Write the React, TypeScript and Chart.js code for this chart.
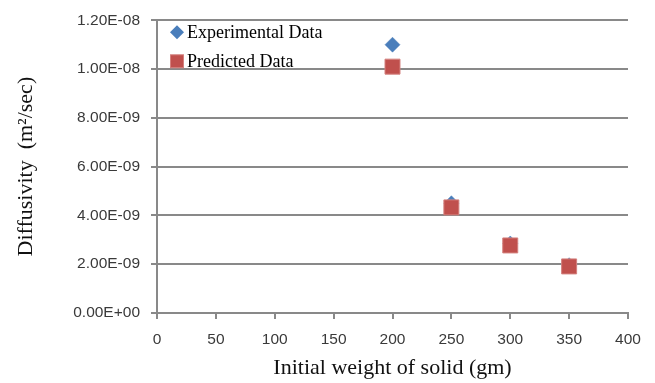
import React, { useEffect, useRef } from 'react';
import { Chart, registerables } from 'chart.js';

Chart.register(...registerables);

const weights = [200, 250, 300, 350];
const experimental = [1.10e-8, 4.5e-9, 2.85e-9, 1.96e-9];
const predicted = [1.01e-8, 4.33e-9, 2.77e-9, 1.91e-9];
const seriesNames = ['Experimental Data', 'Predicted Data'];
const xTitle = 'Initial weight of solid (gm)';
const yTitle = 'Diffusivity  (m\u00B2/sec)';

const BLUE = '#4A7EBB';
const RED = '#C0504D';

function fmtExp(v: number): string {
  const [m, e] = v.toExponential(2).split('e');
  const n = parseInt(e, 10);
  const sign = n < 0 ? '-' : '+';
  return m + 'E' + sign + String(Math.abs(n)).padStart(2, '0');
}

const legendPlugin = {
  id: 'insideLegend',
  afterDraw(chart: any) {
    const ctx = chart.ctx;
    const { left, top } = chart.chartArea;
    ctx.save();
    const dx = left + 20;
    const dy = top + 12;
    ctx.fillStyle = BLUE;
    ctx.beginPath();
    ctx.moveTo(dx, dy - 7);
    ctx.lineTo(dx + 7, dy);
    ctx.lineTo(dx, dy + 7);
    ctx.lineTo(dx - 7, dy);
    ctx.closePath();
    ctx.fill();
    const sy = top + 41;
    ctx.fillStyle = RED;
    ctx.fillRect(dx - 6.5, sy - 6.5, 13, 13);
    ctx.strokeStyle = '#D4817E';
    ctx.lineWidth = 1;
    ctx.strokeRect(dx - 6.5, sy - 6.5, 13, 13);
    ctx.fillStyle = '#000';
    ctx.font = '18px "Liberation Serif", "Times New Roman", serif';
    ctx.textBaseline = 'middle';
    ctx.textAlign = 'left';
    ctx.fillText(seriesNames[0], left + 30, dy + 1);
    ctx.fillText(seriesNames[1], left + 30, sy + 1);
    ctx.restore();
  },
};

export default function App() {
  const ref = useRef<HTMLCanvasElement | null>(null);

  useEffect(() => {
    document.body.style.margin = '0';
    const canvas = ref.current;
    if (!canvas) return;
    const gridColor = '#898989';
    const tickFont = { family: '"Liberation Sans", Arial, sans-serif', size: 15.5 };
    const titleFont = { family: '"Liberation Serif", "Times New Roman", serif', size: 22 };
    const chart = new Chart(canvas, {
      type: 'scatter',
      data: {
        datasets: [
          {
            label: seriesNames[1],
            data: weights.map((w, i) => ({ x: w, y: predicted[i] })),
            pointStyle: 'rect',
            pointRadius: 10.6,
            pointHoverRadius: 10.6,
            backgroundColor: RED,
            borderColor: '#D4817E',
            borderWidth: 1,
            order: 0,
          },
          {
            label: seriesNames[0],
            data: weights.map((w, i) => ({ x: w, y: experimental[i] })),
            pointStyle: 'rectRot',
            pointRadius: 7.5,
            pointHoverRadius: 7.5,
            backgroundColor: BLUE,
            borderColor: BLUE,
            borderWidth: 0.5,
            order: 1,
          },
        ],
      },
      options: {
        animation: false,
        responsive: false,
        maintainAspectRatio: false,
        events: [],
        layout: { padding: { top: 19, right: 27, left: 0, bottom: 0 } },
        plugins: {
          legend: { display: false },
          tooltip: { enabled: false },
        },
        scales: {
          x: {
            type: 'linear',
            min: 0,
            max: 400,
            afterFit: (s: any) => {
              s.height = 70;
            },
            ticks: {
              stepSize: 50,
              color: '#3a3a3a',
              font: tickFont,
              padding: 11,
              maxRotation: 0,
            },
            grid: {
              drawOnChartArea: false,
              drawTicks: true,
              tickLength: 6,
              color: gridColor,
              lineWidth: 2,
            },
            border: { color: gridColor, width: 2 },
            title: {
              display: true,
              text: xTitle,
              color: '#111',
              font: titleFont,
              padding: { top: 0, bottom: 2 },
            },
          },
          y: {
            type: 'linear',
            min: 0,
            max: 1.2e-8,
            afterFit: (s: any) => {
              s.width = 157;
            },
            ticks: {
              stepSize: 2e-9,
              color: '#3a3a3a',
              font: tickFont,
              padding: 11,
              callback: (v: any) => fmtExp(Number(v)),
            },
            grid: {
              drawOnChartArea: true,
              drawTicks: true,
              tickLength: 6,
              color: gridColor,
              lineWidth: 2,
            },
            border: { color: gridColor, width: 2 },
            title: {
              display: true,
              text: yTitle,
              color: '#111',
              font: titleFont,
              padding: { top: 13, bottom: 0 },
            },
          },
        },
      },
      plugins: [legendPlugin],
    } as any);
    return () => chart.destroy();
  }, []);

  return (
    <div style={{ position: 'relative', width: 655, height: 383, background: '#fff' }}>
      <canvas ref={ref} width={655} height={383} style={{ display: 'block' }} />
    </div>
  );
}
